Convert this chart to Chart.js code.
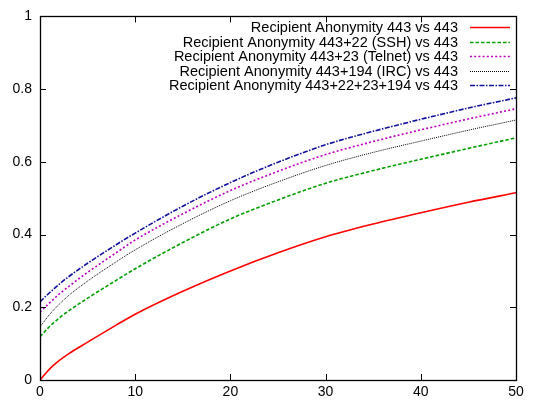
<!DOCTYPE html>
<html>
<head>
<meta charset="utf-8">
<script src="https://cdn.jsdelivr.net/npm/chart.js@4.4.1/dist/chart.umd.min.js"></script>
<style>
  html, body { margin: 0; padding: 0; background: #fff; }
  #wrap { width: 534px; height: 404px; }
</style>
</head>
<body>
<div id="wrap"><canvas id="c" width="534" height="404"></canvas></div>
<script>
// sample positions along x
var X_VALUES = [0, 1, 2, 3, 5, 8, 10, 15, 20, 25, 30, 35, 40, 45, 50];

var LABELS = [
    'Recipient Anonymity 443 vs 443',
    'Recipient Anonymity 443+22 (SSH) vs 443',
    'Recipient Anonymity 443+23 (Telnet) vs 443',
    'Recipient Anonymity 443+194 (IRC) vs 443',
    'Recipient Anonymity 443+22+23+194 vs 443'
];

var ANON_443     = [0, 0.030, 0.053, 0.072, 0.104, 0.151, 0.181, 0.244, 0.300, 0.350, 0.394, 0.429, 0.460, 0.489, 0.515];
var ANON_SSH     = [0.119, 0.147, 0.170, 0.190, 0.225, 0.274, 0.306, 0.378, 0.443, 0.495, 0.541, 0.576, 0.607, 0.637, 0.666];
var ANON_TELNET  = [0.187, 0.212, 0.236, 0.257, 0.296, 0.350, 0.385, 0.457, 0.521, 0.574, 0.620, 0.656, 0.688, 0.718, 0.746];
var ANON_IRC     = [0.146, 0.180, 0.208, 0.232, 0.272, 0.325, 0.358, 0.430, 0.493, 0.545, 0.590, 0.626, 0.657, 0.687, 0.715];
var ANON_ALL     = [0.215, 0.240, 0.263, 0.284, 0.321, 0.372, 0.404, 0.478, 0.543, 0.599, 0.647, 0.684, 0.717, 0.748, 0.776];

var X_TICKS = [0, 10, 20, 30, 40, 50];
var Y_TICKS = [0, 0.2, 0.4, 0.6, 0.8, 1];

var FONT = 'Liberation Sans, Arial, Helvetica, sans-serif';

function pts(ys) {
    return X_VALUES.map(function (x, i) { return { x: x, y: ys[i] }; });
}

function line(label, ys, color, dash, width) {
    return {
        label: label,
        data: pts(ys),
        borderColor: color,
        borderWidth: width,
        borderDash: dash,
        pointRadius: 0,
        fill: false,
        cubicInterpolationMode: 'monotone'
    };
}

// gnuplot-ish frame: box round the plot + inward ticks on all four sides
var framePlugin = {
    id: 'frame',
    afterDatasetsDraw: function (chart) {
        var ctx = chart.ctx, a = chart.chartArea;
        var sx = chart.scales.x, sy = chart.scales.y;
        var len = 6;
        ctx.save();
        ctx.strokeStyle = '#000';
        ctx.lineWidth = 1;
        ctx.setLineDash([]);
        ctx.beginPath();
        X_TICKS.forEach(function (v) {
            var px = Math.round(sx.getPixelForValue(v)) + 0.5;
            ctx.moveTo(px, a.bottom); ctx.lineTo(px, a.bottom - len);
            ctx.moveTo(px, a.top); ctx.lineTo(px, a.top + len);
        });
        Y_TICKS.forEach(function (v) {
            var py = Math.round(sy.getPixelForValue(v)) + 0.5;
            ctx.moveTo(a.left, py); ctx.lineTo(a.left + len, py);
            ctx.moveTo(a.right, py); ctx.lineTo(a.right - len, py);
        });
        ctx.stroke();
        ctx.lineWidth = 1.3;
        ctx.strokeRect(Math.round(a.left) + 0.5, Math.round(a.top) + 0.5,
            Math.round(a.right - a.left), Math.round(a.bottom - a.top));
        ctx.restore();
    }
};

// key in the top right corner: text right-aligned, sample line after it
var keyPlugin = {
    id: 'key',
    afterDraw: function (chart) {
        var ctx = chart.ctx;
        var textRight = 458, x0 = 470, x1 = 510, y0 = 27, step = 14.6;
        ctx.save();
        ctx.font = '14.5px ' + FONT;
        ctx.textAlign = 'right';
        ctx.textBaseline = 'middle';
        chart.data.datasets.forEach(function (ds, i) {
            var y = y0 + i * step;
            ctx.fillStyle = '#000';
            ctx.fillText(ds.label, textRight, y + 1);
            ctx.strokeStyle = ds.borderColor;
            ctx.lineWidth = ds.borderWidth;
            ctx.setLineDash(ds.borderDash || []);
            ctx.beginPath();
            ctx.moveTo(x0, Math.round(y) + 0.5);
            ctx.lineTo(x1, Math.round(y) + 0.5);
            ctx.stroke();
        });
        ctx.restore();
    }
};

new Chart(document.getElementById('c').getContext('2d'), {
    type: 'line',
    data: {
        datasets: [
            line(LABELS[0], ANON_443, '#ff0000', [], 1.6),
            line(LABELS[1], ANON_SSH, '#00a000', [3.5, 2], 1.6),
            line(LABELS[2], ANON_TELNET, '#c000c0', [2, 2.2], 1.6),
            line(LABELS[3], ANON_IRC, '#000000', [1, 1], 1),
            line(LABELS[4], ANON_ALL, '#1010a0', [5, 1.5, 1.5, 1.5], 1.6)
        ]
    },
    options: {
        responsive: false,
        animation: false,
        devicePixelRatio: 1,
        layout: { padding: { top: 14, right: 18, left: 0, bottom: 0 } },
        plugins: {
            legend: { display: false },
            tooltip: { enabled: false }
        },
        scales: {
            x: {
                type: 'linear',
                min: 0,
                max: 50,
                afterBuildTicks: function (s) { s.ticks = X_TICKS.map(function (v) { return { value: v }; }); },
                afterFit: function (s) { s.height = 24; },
                ticks: {
                    color: '#000', font: { family: FONT, size: 14 }, padding: 4, maxRotation: 0,
                    callback: function (v) { return String(v); }
                },
                grid: { display: false, drawTicks: false },
                border: { display: false }
            },
            y: {
                min: 0,
                max: 1,
                afterBuildTicks: function (s) { s.ticks = Y_TICKS.map(function (v) { return { value: v }; }); },
                afterFit: function (s) { s.width = 40; },
                ticks: {
                    color: '#000', font: { family: FONT, size: 14 }, padding: 8,
                    callback: function (v) { return String(v); }
                },
                grid: { display: false, drawTicks: false },
                border: { display: false }
            }
        }
    },
    plugins: [framePlugin, keyPlugin]
});
</script>
</body>
</html>
